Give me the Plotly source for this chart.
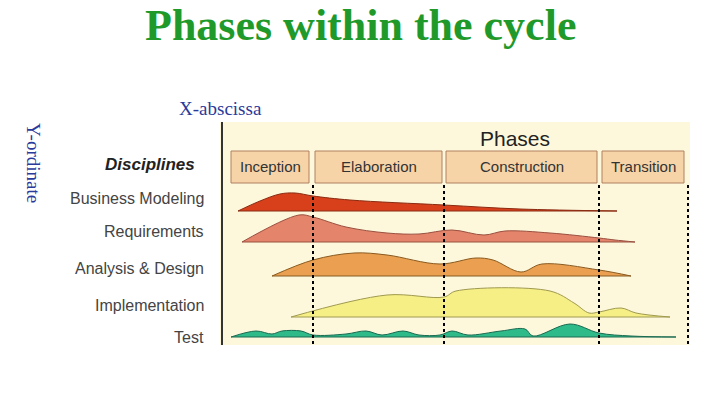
import plotly.graph_objects as go

# hump chart data: (position along timeline, hump height) per discipline
disciplines = ["Business Modeling", "Requirements", "Analysis & Design", "Implementation", "Test"]
baselines = [211, 242, 276, 317, 337]
colors = ["#d8401c", "#e4846a", "#eaa050", "#f5ef86", "#2fba8a"]
edge_colors = ["#8a2a10", "#9a5040", "#8a5a20", "#a09a50", "#1a6a50"]

bm_x = [238, 260, 280, 295, 313, 350, 444, 520, 617]
bm_h = [0, 10, 17, 18, 15, 11, 6, 2, 0]
req_x = [242, 299, 313, 346, 387, 419, 452, 484, 505, 550, 599, 615, 635]
req_h = [0, 27, 25, 15, 9, 8, 12, 7, 11, 9, 4, 2, 0]
ad_x = [272, 313, 354, 387, 440, 476, 493, 521, 542, 599, 631]
ad_h = [0, 16, 23, 21, 12, 18, 16, 4, 12, 6, 0]
impl_x = [291, 387, 444, 456, 550, 574, 589, 599, 621, 636, 670]
impl_h = [0, 22, 20, 26, 26, 14, 4, 5, 9, 4, 0]
test_x = [231, 256, 272, 282, 301, 313, 346, 366, 382, 403, 419, 440, 452, 468,
          501, 525, 533, 570, 599, 631, 676]
test_h = [0, 6, 3, 6, 6, 2, 3, 6, 2, 6, 2, 2, 6, 2, 6, 8, 1, 13, 4, 1, 0]
humps = [(bm_x, bm_h), (req_x, req_h), (ad_x, ad_h), (impl_x, impl_h), (test_x, test_h)]

phases = ["Inception", "Elaboration", "Construction", "Transition"]
phase_left = [231, 315, 446, 602]
phase_right = [309, 442, 597, 684]
milestones = [313, 444, 599, 688]
label_y = [198, 231, 268, 305, 337]

fig = go.Figure()
for (xs, hs), base, c, ec in zip(humps, baselines, colors, edge_colors):
    fig.add_trace(go.Scatter(x=xs, y=[base] * len(xs), mode="lines",
                             line=dict(color=ec, width=1), showlegend=False))
    fig.add_trace(go.Scatter(x=xs, y=[base - h for h in hs], mode="lines", fill="tonexty",
                             fillcolor=c, line=dict(color=ec, width=1, shape="spline"),
                             showlegend=False))

shapes = [dict(type="rect", x0=220, x1=690, y0=122, y1=345, fillcolor="#fdf8dc",
               line=dict(width=0), layer="below"),
          dict(type="line", x0=222, x1=222, y0=122, y1=345, line=dict(color="#333", width=2))]
for l, r in zip(phase_left, phase_right):
    shapes.append(dict(type="rect", x0=l, x1=r, y0=151, y1=183, fillcolor="#f6d4a8",
                       line=dict(color="#b08060", width=1), layer="below"))
for m in milestones:
    shapes.append(dict(type="line", x0=m, x1=m, y0=185, y1=345,
                       line=dict(color="black", width=2, dash="dot")))

ann = [dict(x=360, y=25, text="<b>Phases within the cycle</b>", showarrow=False,
            font=dict(family="Liberation Serif", size=44, color="#1f9a2a")),
       dict(x=220, y=108, text="X-abscissa", showarrow=False,
            font=dict(family="Liberation Serif", size=19, color="#2a3a9a")),
       dict(x=34, y=163, text="Y-ordinate", showarrow=False, textangle=90,
            font=dict(family="Liberation Serif", size=19, color="#2a3a9a")),
       dict(x=515, y=138, text="Phases", showarrow=False,
            font=dict(family="Liberation Sans", size=21, color="#222")),
       dict(x=150, y=164, text="<b><i>Disciplines</i></b>", showarrow=False,
            font=dict(family="Liberation Sans", size=17, color="#222"))]
for l, r, p in zip(phase_left, phase_right, phases):
    ann.append(dict(x=(l + r) / 2, y=166, text=p, showarrow=False,
                    font=dict(family="Liberation Sans", size=15, color="#333")))
for d, y in zip(disciplines, label_y):
    ann.append(dict(x=206, y=y, text=d, showarrow=False, xanchor="right",
                    font=dict(family="Liberation Sans", size=16, color="#444")))

fig.update_layout(width=720, height=405, margin=dict(l=0, r=0, t=0, b=0),
                  paper_bgcolor="white", plot_bgcolor="white",
                  xaxis=dict(range=[8, 728], visible=False),
                  yaxis=dict(range=[413, 8], visible=False),
                  shapes=shapes, annotations=ann)
fig.write_html("out.html")
